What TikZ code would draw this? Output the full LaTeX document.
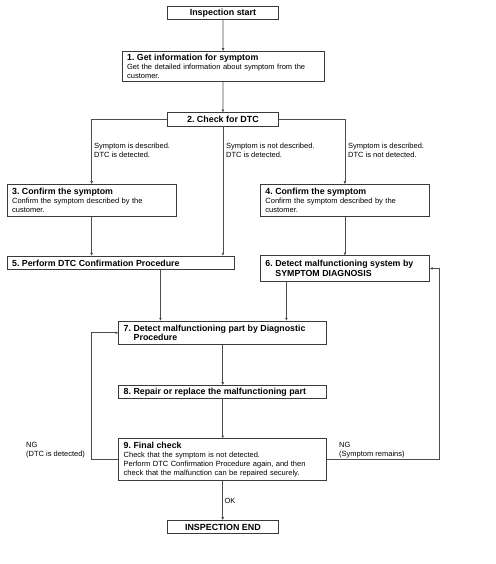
\documentclass[tikz,border=0pt]{standalone}
\usepackage{fontspec}
\setmainfont{Liberation Sans}
\usetikzlibrary{arrows.meta}
\frenchspacing
\definecolor{linegray}{HTML}{4D4D4D}
\definecolor{boxgray}{HTML}{3A3A3A}
\newcommand{\boxttl}[1]{{\fontsize{8.8}{10}\selectfont\bfseries #1}}
\tikzset{
  x=1pt, y=-1pt,
  box/.style={draw=boxgray, line width=0.85pt, fill=white, anchor=north west,
    inner xsep=5pt, inner ysep=1pt, align=left,
    font=\fontsize{7.5}{8.8}\selectfont},
  cbox/.style={draw=boxgray, line width=0.85pt, fill=white, anchor=north west,
    inner sep=0pt, align=center, font=\fontsize{8.9}{10}\selectfont\bfseries},
  conn/.style={draw=linegray, line width=0.8pt, -{Triangle[length=2.8pt,width=2.4pt]}},
  lbl/.style={anchor=north west, inner sep=0pt, align=left, font=\fontsize{7.5}{9}\selectfont}
}
\begin{document}
\begin{tikzpicture}
\useasboundingbox (0,0) rectangle (495,564);
% boxes
\node[cbox, minimum width=111.6pt, minimum height=13.3pt] (start) at (166.7,6) {Inspection start};
\node[box, text width=192pt, minimum height=30pt] (b1) at (121.7,51)
  {\boxttl{1. Get information for symptom}\\Get the detailed information about symptom from the\\customer.};
\node[cbox, minimum width=111.6pt, minimum height=13.7pt] (b2) at (166.7,112.3) {2. Check for DTC};
\node[box, text width=159pt, minimum height=31.7pt] (b3) at (6.7,184)
  {\boxttl{3. Confirm the symptom}\\Confirm the symptom described by the\\customer.};
\node[box, text width=159pt, minimum height=31.7pt] (b4) at (260,184)
  {\boxttl{4. Confirm the symptom}\\Confirm the symptom described by the\\customer.};
\node[box, text width=217pt, minimum height=13.6pt] (b5) at (6.7,255.7)
  {\boxttl{5. Perform DTC Confirmation Procedure}};
\node[box, text width=159pt, minimum height=25.3pt] (b6) at (260,255.4)
  {\boxttl{6. Detect malfunctioning system by}\\[1.2pt]\boxttl{\hspace*{10pt}SYMPTOM DIAGNOSIS}};
\node[box, text width=198pt, minimum height=23.3pt] (b7) at (118.3,320.7)
  {\boxttl{7. Detect malfunctioning part by Diagnostic}\\[1pt]\boxttl{\hspace*{10pt}Procedure}};
\node[box, text width=198pt, minimum height=13pt] (b8) at (118.3,385)
  {\boxttl{8. Repair or replace the malfunctioning part}};
\node[box, text width=198pt, minimum height=41.7pt] (b9) at (118.3,438.3)
  {\boxttl{9. Final check}\\Check that the symptom is not detected.\\Perform DTC Confirmation Procedure again, and then\\check that the malfunction can be repaired securely.};
\node[cbox, minimum width=111.6pt, minimum height=13.3pt] (end) at (166.7,520) {INSPECTION END};
% labels
\node[lbl] (l1) at (94,143) {Symptom is described.\\DTC is detected.};
\node[lbl] (l2) at (226,143) {Symptom is not described.\\DTC is detected.};
\node[lbl] (l3) at (348,143) {Symptom is described.\\DTC is not detected.};
\node[lbl] (ng1) at (26,442) {NG\\(DTC is detected)};
\node[lbl] (ng2) at (339,442) {NG\\(Symptom remains)};
% connectors
\path[conn] (start) -- (b1);
\path[conn] (b1) -- (b2);
\path[conn] (b2.west) -| (b3.north);
\path[conn] (b2.east) -| (b4.north);
\path[conn] (b2.south) -- (b2.south |- b5.north);
\path[conn] (b3.south) -- (b3.south |- b5.north);
\path[conn] (b4) -- (b6);
\path[conn] ([xshift=39.8pt]b5.south) -- ([xshift=39.8pt]b5.south |- b7.north);
\path[conn] ([xshift=-58.5pt]b6.south) -- ([xshift=-58.5pt]b6.south |- b7.north);
\path[conn] (b7.south) -- (b7.south |- b8.north);
\path[conn] (b8.south) -- (b8.south |- b9.north);
\path[conn] (b9.south) -- node[pos=0.5, right, inner sep=1.5pt, font=\fontsize{7.5}{9}\selectfont] (ok) {OK} (b9.south |- end.north);
\path[conn] (b9.west) -- ++(-27.3,0) |- (b7.west);
\path[conn] (b9.east) -- ++(112,0) |- (b6.east);
\end{tikzpicture}
\end{document}
